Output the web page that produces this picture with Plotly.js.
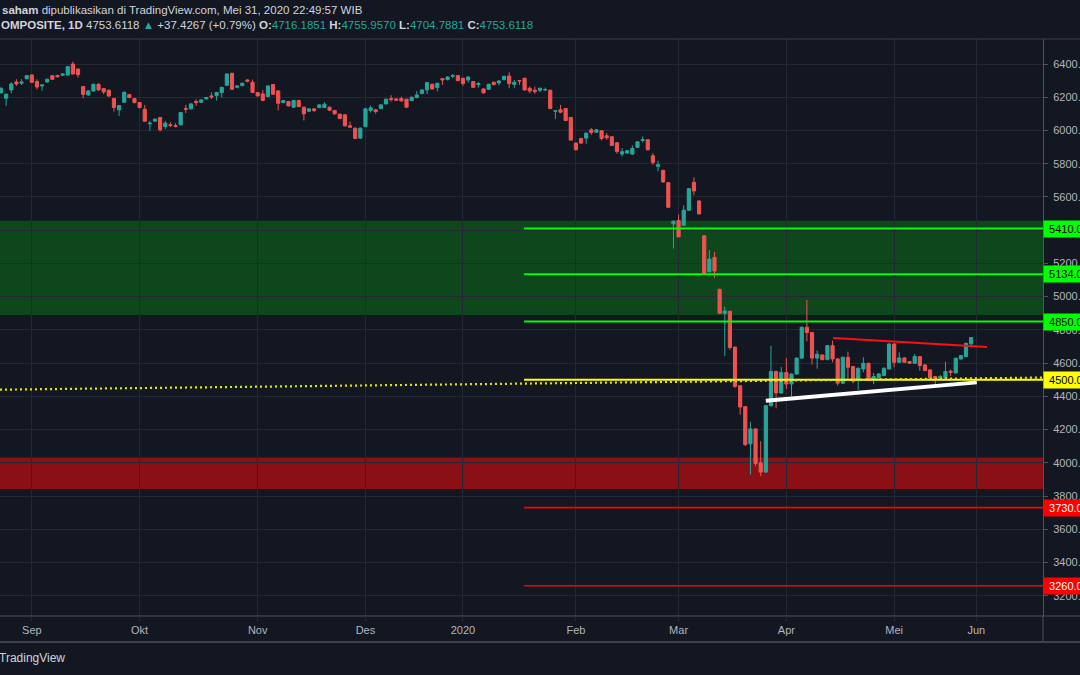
<!DOCTYPE html>
<html><head><meta charset="utf-8">
<script src="https://cdn.plot.ly/plotly-3.0.1.min.js"></script>
<style>html,body{margin:0;padding:0;background:#131722;overflow:hidden}#chart{width:1080px;height:675px}</style>
</head><body><div id="chart"></div>
<script>
// ---- daily bars (IDX Composite, late Aug 2019 - 29 May 2020) ----
const opens = [6228,6194,6244,6292,6284,6312,6334,6294,6268,6292,6330,6330,6332,6334,6400,6370,6264,6214,6238,6278,
6252,6242,6192,6124,6170,6216,6192,6168,6128,6040,6056,6078,6024,6034,6028,6034,6132,6130,6174,6170,
6190,6208,6210,6228,6272,6344,6260,6270,6304,6290,6228,6220,6204,6276,6238,6168,6174,6140,6180,6140,
6116,6130,6138,6138,6140,6120,6098,6094,6028,6014,5954,6024,6120,6124,6132,6160,6192,6190,6192,6188,
6180,6198,6222,6244,6278,6258,6312,6306,6326,6330,6314,6304,6294,6276,6250,6248,6290,6286,6306,6328,
6278,6300,6314,6254,6242,6242,6244,6242,6116,6124,6132,6078,5924,5952,5954,6004,5990,5998,5968,5962,
5926,5858,5864,5858,5898,5940,5944,5848,5784,5760,5686,5438,5458,5430,5520,5688,5576,5366,5150,5236,
5044,4900,4912,4696,4464,4338,4114,4204,4000,3944,4344,4550,4420,4544,4474,4534,4630,4816,4784,4630,
4649,4621,4705,4625,4479,4635,4579,4495,4565,4599,4501,4511,4525,4565,4715,4605,4631,4609,4599,4639,
4589,4559,4519,4509,4511,4551,4541,4625,4639,4716.19];
const highs = [6260,6222,6290,6308,6308,6334,6336,6308,6276,6312,6334,6336,6346,6388,6414,6372,6268,6242,6282,6284,
6256,6246,6196,6152,6234,6220,6196,6170,6154,6058,6072,6082,6058,6050,6044,6112,6154,6164,6188,6188,
6202,6230,6232,6262,6344,6348,6272,6288,6308,6306,6230,6244,6272,6280,6242,6184,6178,6184,6184,6144,
6134,6134,6158,6170,6144,6124,6102,6098,6054,6018,6018,6134,6150,6128,6158,6192,6212,6196,6204,6192,
6204,6238,6248,6292,6282,6288,6316,6326,6340,6334,6318,6326,6298,6292,6254,6282,6294,6302,6330,6350,
6304,6304,6318,6264,6264,6258,6258,6246,6120,6154,6136,6082,5928,5956,5988,6014,6008,6002,5984,5966,
5930,5894,5882,5910,5936,5964,5948,5864,5818,5764,5690,5458,5494,5550,5654,5718,5580,5370,5280,5268,
5048,4940,4916,4700,4468,4342,4246,4208,4130,4348,4704,4554,4576,4630,4538,4634,4820,4980,4788,4676,
4653,4709,4735,4629,4639,4669,4583,4573,4635,4603,4541,4539,4573,4719,4719,4665,4635,4613,4655,4643,
4593,4563,4523,4529,4609,4561,4633,4649,4723,4755.96];
const lows = [6220,6148,6224,6268,6274,6308,6288,6248,6240,6286,6306,6318,6328,6330,6338,6318,6194,6210,6234,6240,
6218,6202,6114,6088,6166,6194,6162,6132,6052,6000,6052,5994,6008,6020,6018,6030,6104,6126,6148,6166,
6186,6190,6180,6198,6268,6244,6254,6266,6290,6226,6204,6176,6200,6214,6120,6164,6144,6136,6140,6060,
6112,6110,6134,6134,6118,6096,6068,6024,6016,5948,5948,6020,6108,6100,6128,6156,6174,6178,6174,6136,
6176,6194,6218,6218,6246,6234,6274,6302,6314,6296,6268,6288,6256,6258,6222,6244,6272,6272,6302,6254,
6254,6274,6240,6224,6220,6230,6236,6128,6068,6104,6056,5938,5880,5920,5920,5974,5986,5940,5944,5906,
5860,5844,5860,5854,5894,5928,5880,5792,5754,5686,5534,5290,5356,5426,5516,5610,5494,5134,5146,5114,
4896,4644,4680,4450,4290,4100,3930,3980,3920,3940,4338,4328,4416,4446,4400,4530,4626,4730,4590,4566,
4617,4617,4605,4465,4475,4495,4479,4439,4545,4495,4473,4507,4521,4561,4575,4601,4601,4595,4595,4555,
4551,4507,4461,4499,4507,4521,4537,4621,4635,4704.79];
const closes = [6254,6218,6280,6280,6292,6330,6290,6262,6274,6308,6308,6324,6340,6384,6340,6336,6218,6238,6278,6244,
6232,6208,6138,6150,6230,6198,6168,6138,6056,6044,6068,6004,6044,6030,6024,6108,6128,6160,6168,6184,
6198,6202,6228,6260,6340,6248,6268,6284,6296,6228,6208,6180,6268,6218,6164,6180,6148,6180,6144,6100,
6130,6120,6154,6158,6122,6100,6072,6028,6020,5952,6014,6130,6136,6114,6154,6188,6186,6182,6178,6140,
6200,6214,6244,6288,6250,6284,6304,6322,6330,6300,6282,6322,6260,6282,6226,6278,6276,6298,6326,6282,
6290,6298,6244,6238,6234,6254,6246,6132,6118,6110,6060,5942,5884,5924,5984,5988,6004,5952,5956,5910,
5874,5872,5878,5892,5932,5944,5884,5808,5794,5690,5538,5454,5360,5520,5650,5636,5498,5138,5226,5154,
4900,4914,4694,4460,4336,4110,4204,3996,3944,4344,4550,4420,4544,4474,4534,4630,4816,4784,4630,4654,
4621,4705,4625,4479,4635,4575,4491,4569,4599,4499,4519,4535,4569,4715,4605,4631,4605,4599,4639,4585,
4555,4511,4509,4519,4549,4545,4629,4645,4719,4753.61];

// time-scale: bars are drawn at their bar number (no gaps for non-trading days)
const barIndex = opens.map((_, i) => i + 1);
const monthTickBars = [7, 28, 51, 72, 91, 113, 133, 154, 175, 191];
const monthTickLabels = ['Sep', 'Okt', 'Nov', 'Des', '2020', 'Feb', 'Mar', 'Apr', 'Mei', 'Jun'];
const priceTicks = [3200, 3400, 3600, 3800, 4000, 4200, 4400, 4600, 4800, 5000, 5200, 5400, 5600, 5800, 6000, 6200, 6400];
const priceTickLabels = priceTicks.map(v => v.toFixed(2));

// drawings
const levelStartBar = 102.9;
const greenLevels = [5410, 5134, 4850];
const yellowLevel = 4500;
const redLevels = [3730, 3260];
const greenZone = [4890, 5456];
const redZone = [3842, 4032];
const dottedBars = [0.8, 204], dottedPrices = [4440, 4513];
const redTrendBars = [163.1, 193.1], redTrendPrices = [4751, 4697];
const whiteTrendBars = [150.0, 191.1], whiteTrendPrices = [4374, 4484];

const UP = '#26a69a', DOWN = '#ef5350', TXT = '#b2b5be', AXL = '#50535e', GRID = '#242834';
const FONT = 'Liberation Sans, Arial, sans-serif';

const trace = {
  type: 'candlestick', x: barIndex, open: opens, high: highs, low: lows, close: closes,
  increasing: {line: {color: UP, width: 1}, fillcolor: UP},
  decreasing: {line: {color: DOWN, width: 1}, fillcolor: DOWN},
  whiskerwidth: 0, hoverinfo: 'skip', showlegend: false
};

const shapes = [];
const annotations = [];
// zones
shapes.push({type: 'rect', xref: 'paper', x0: 0, x1: 1, yref: 'y', y0: greenZone[0], y1: greenZone[1], fillcolor: '#0f471d', line: {width: 0}, layer: 'below'});
shapes.push({type: 'rect', xref: 'paper', x0: 0, x1: 1, yref: 'y', y0: redZone[0], y1: redZone[1], fillcolor: '#8a1016', line: {width: 0}, layer: 'below'});
// horizontal levels
function level(v, color, width) {
  shapes.push({type: 'line', xref: 'x', x0: levelStartBar, x1: 204, yref: 'y', y0: v, y1: v, line: {color: color, width: width}, layer: 'above'});
}
greenLevels.forEach(v => level(v, '#00ff00', 2));
level(yellowLevel, '#ffff00', 2);
redLevels.forEach(v => level(v, '#ff0000', 1.6));
// dotted yellow
shapes.push({type: 'line', xref: 'x', yref: 'y', x0: dottedBars[0], x1: dottedBars[1], y0: dottedPrices[0], y1: dottedPrices[1], line: {color: '#e6e600', width: 2.2, dash: '2px,3px'}, layer: 'above'});
// trend lines
shapes.push({type: 'line', xref: 'x', yref: 'y', x0: redTrendBars[0], x1: redTrendBars[1], y0: redTrendPrices[0], y1: redTrendPrices[1], line: {color: '#ff1010', width: 2}, layer: 'above'});
shapes.push({type: 'line', xref: 'x', yref: 'y', x0: whiteTrendBars[0], x1: whiteTrendBars[1], y0: whiteTrendPrices[0], y1: whiteTrendPrices[1], line: {color: '#ffffff', width: 4}, layer: 'above'});
// frame lines
shapes.push({type: 'line', xref: 'paper', yref: 'paper', x0: 0, x1: 1.04, y0: 1, y1: 1, line: {color: '#3a3e4a', width: 1}});
shapes.push({type: 'line', xref: 'paper', yref: 'paper', x0: 0, x1: 1.04, y0: 0, y1: 0, line: {color: AXL, width: 1}});
shapes.push({type: 'line', xref: 'paper', x0: 0, x1: 1.04, yref: 'paper', ysizemode: 'pixel', yanchor: 0, y0: -26, y1: -26, line: {color: AXL, width: 1.5}});
shapes.push({type: 'line', xref: 'paper', x0: 1, x1: 1, yref: 'paper', ysizemode: 'pixel', yanchor: 0, y0: -26, y1: 0, line: {color: AXL, width: 1}});

// price tags on the axis
function tag(v, bg, fg) {
  annotations.push({xref: 'paper', x: 1, xanchor: 'left', yref: 'y', y: v, yanchor: 'middle', showarrow: false,
    text: '\u00a0' + v.toFixed(2) + '\u00a0\u00a0\u00a0', bgcolor: bg, borderpad: 2, font: {family: FONT, size: 11, color: fg}});
}
greenLevels.forEach(v => tag(v, '#00ff00', '#000000'));
tag(yellowLevel, '#ffff00', '#000000');
redLevels.forEach(v => tag(v, '#ff0000', '#ffffff'));

// header
const T = s => '<span style="color:' + UP + '">' + s + '</span>';
annotations.push({xref: 'paper', yref: 'paper', x: 0, y: 1, xanchor: 'left', yanchor: 'middle', yshift: 29, showarrow: false,
  text: '<b>saham</b> dipublikasikan di TradingView.com, Mei 31, 2020 22:49:57 WIB', font: {family: FONT, size: 11.5, color: '#d1d4dc'}});
annotations.push({xref: 'paper', yref: 'paper', x: 0, y: 1, xanchor: 'left', yanchor: 'middle', yshift: 14, xshift: -1, showarrow: false,
  text: '<b>OMPOSITE, 1D</b> 4753.6118 ' + T('▲') + ' +37.4267 (+0.79%) <b>O:</b>' + T('4716.1851') + ' <b>H:</b>' + T('4755.9570') + ' <b>L:</b>' + T('4704.7881') + ' <b>C:</b>' + T('4753.6118'),
  font: {family: FONT, size: 11.5, color: '#d1d4dc'}});
// footer
annotations.push({xref: 'paper', yref: 'paper', x: 0, y: 0, xanchor: 'left', yanchor: 'middle', yshift: -42, xshift: -3, showarrow: false,
  text: 'TradingView', font: {family: FONT, size: 12, color: '#d1d4dc'}});

const layout = {
  width: 1080, height: 675,
  margin: {l: 0, r: 37, t: 39, b: 59, pad: 0},
  paper_bgcolor: '#131722', plot_bgcolor: '#131722',
  boxgap: 0.35, boxgroupgap: 0.05,
  showlegend: false, hovermode: false,
  font: {family: FONT, size: 11, color: TXT},
  xaxis: {
    range: [0.8, 204], rangeslider: {visible: false}, fixedrange: true,
    tickmode: 'array', tickvals: monthTickBars, ticktext: monthTickLabels,
    showgrid: true, gridcolor: GRID, gridwidth: 1, zeroline: false,
    ticks: 'outside', ticklen: 4, tickcolor: GRID, showline: false,
    tickfont: {family: FONT, size: 11, color: TXT}, automargin: false
  },
  yaxis: {
    side: 'right', range: [3078, 6550.5], fixedrange: true,
    tickmode: 'array', tickvals: priceTicks, ticktext: priceTickLabels,
    showgrid: true, gridcolor: GRID, gridwidth: 1, zeroline: false,
    ticks: 'outside', ticklen: 4, tickcolor: AXL, showline: true, linecolor: AXL, linewidth: 1,
    tickfont: {family: FONT, size: 11, color: TXT}, automargin: false, ticklabelstandoff: 3
  },
  shapes: shapes, annotations: annotations
};

Plotly.newPlot('chart', [trace], layout, {staticPlot: true, displayModeBar: false});
</script></body></html>
